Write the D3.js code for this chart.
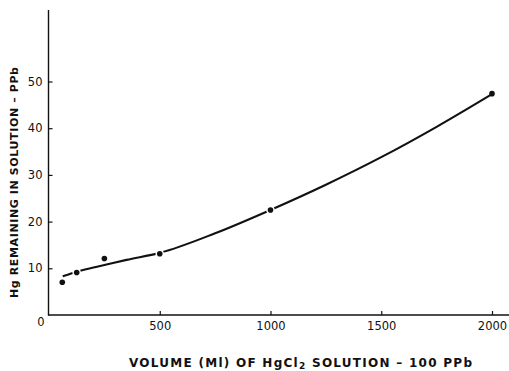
<!DOCTYPE html>
<html>
<head>
<meta charset="utf-8">
<script src="https://cdn.jsdelivr.net/npm/d3@7"></script>
<style>
  html, body { margin: 0; padding: 0; background: #fff; }
  svg { display: block; }
  text { fill: #111; font-family: "DejaVu Sans", "Liberation Sans", Arial, sans-serif; }
</style>
</head>
<body>
<svg id="chart" width="509" height="371"></svg>
<script>
// Measured mercury left in solution after passing HgCl2 (100 ppb) volumes
const volumes = [60, 125, 250, 500, 1000, 2000];          // ml
const hgRemaining = [7.0, 9.1, 12.1, 13.1, 22.5, 47.4];    // ppb

// Smooth hand-fitted curve through the measurements
const fitVolumes = [62, 100, 150, 250, 350, 500, 750, 1000, 1250, 1500, 1750, 2000];
const fitHg = [8.3, 8.9, 9.6, 10.7, 11.8, 13.3, 17.5, 22.5, 27.9, 33.8, 40.3, 47.3];

const xTicks = [500, 1000, 1500, 2000];
const yTicks = [10, 20, 30, 40, 50];

const svg = d3.select("#chart");
const x = d3.scaleLinear().domain([0, 2000]).range([49, 492]);
const y = d3.scaleLinear().domain([0, 50]).range([315, 81.5]);
const axisX0 = 48.5, axisRight = 509, axisTop = 10;
const tickFont = "'DejaVu Sans', 'Liberation Sans', Arial, sans-serif";

// axis lines
svg.append("line").attr("x1", axisX0).attr("x2", axisRight)
  .attr("y1", y(0)).attr("y2", y(0))
  .attr("stroke", "#111").attr("stroke-width", 1.4);
svg.append("line").attr("x1", axisX0).attr("x2", axisX0)
  .attr("y1", axisTop).attr("y2", y(0) + 0.7)
  .attr("stroke", "#111").attr("stroke-width", 1.4);

// x axis ticks (pointing up into the plot)
const xAxis = d3.axisBottom(x).tickValues(xTicks).tickFormat(d3.format("d"))
  .tickSizeInner(-4).tickSizeOuter(0).tickPadding(7);
const gx = svg.append("g").attr("transform", `translate(0,${y(0)})`).call(xAxis);
gx.select(".domain").remove();
gx.selectAll(".tick line").attr("stroke", "#111").attr("stroke-width", 1.2);
gx.selectAll(".tick text").attr("font-size", 11.5).attr("fill", "#111")
  .attr("font-family", tickFont);

// y axis ticks (pointing right into the plot)
const yAxis = d3.axisLeft(y).tickValues(yTicks).tickFormat(d3.format("d"))
  .tickSizeInner(-4).tickSizeOuter(0).tickPadding(6);
const gy = svg.append("g").attr("transform", `translate(${axisX0},0)`).call(yAxis);
gy.select(".domain").remove();
gy.selectAll(".tick line").attr("stroke", "#111").attr("stroke-width", 1.2);
gy.selectAll(".tick text").attr("font-size", 11.5).attr("fill", "#111")
  .attr("font-family", tickFont);

// shared origin label
svg.append("text").attr("x", 41).attr("y", 326)
  .attr("text-anchor", "middle").attr("font-size", 11.5).text("0");

// fitted curve
const line = d3.line().x(d => x(d)).y((d, i) => y(fitHg[i])).curve(d3.curveMonotoneX);
svg.append("path").datum(fitVolumes).attr("d", line)
  .attr("fill", "none").attr("stroke", "#111").attr("stroke-width", 2.1)
  .attr("stroke-linecap", "butt");

// data points with a white ring that breaks the curve around them
const pts = volumes.map((v, i) => ({ v, h: hgRemaining[i] }));
svg.append("g").selectAll("circle").data(pts.slice(1, 5)).join("circle")
  .attr("cx", d => x(d.v)).attr("cy", d => y(d.h)).attr("r", 4.3).attr("fill", "#fff");
svg.append("g").selectAll("circle").data(pts).join("circle")
  .attr("cx", d => x(d.v)).attr("cy", d => y(d.h)).attr("r", 2.8).attr("fill", "#111");

// axis titles
svg.append("text")
  .attr("transform", "translate(18,182.5) rotate(-90)")
  .attr("text-anchor", "middle").attr("font-size", 11).attr("font-weight", "bold")
  .attr("font-family", "'Liberation Sans', Arial, sans-serif")
  .attr("textLength", 231).attr("lengthAdjust", "spacing")
  .text("Hg REMAINING IN SOLUTION – PPb");

const xt = svg.append("text").attr("x", 129).attr("y", 367)
  .attr("font-size", 12).attr("font-weight", "bold")
  .attr("font-family", "'Liberation Sans', Arial, sans-serif")
  .attr("textLength", 343).attr("lengthAdjust", "spacing");
xt.append("tspan").text("VOLUME (Ml) OF  HgCl");
xt.append("tspan").attr("font-size", 9).attr("dy", 2).text("2");
xt.append("tspan").attr("dy", -2).text("  SOLUTION – 100 PPb");
</script>
</body>
</html>
